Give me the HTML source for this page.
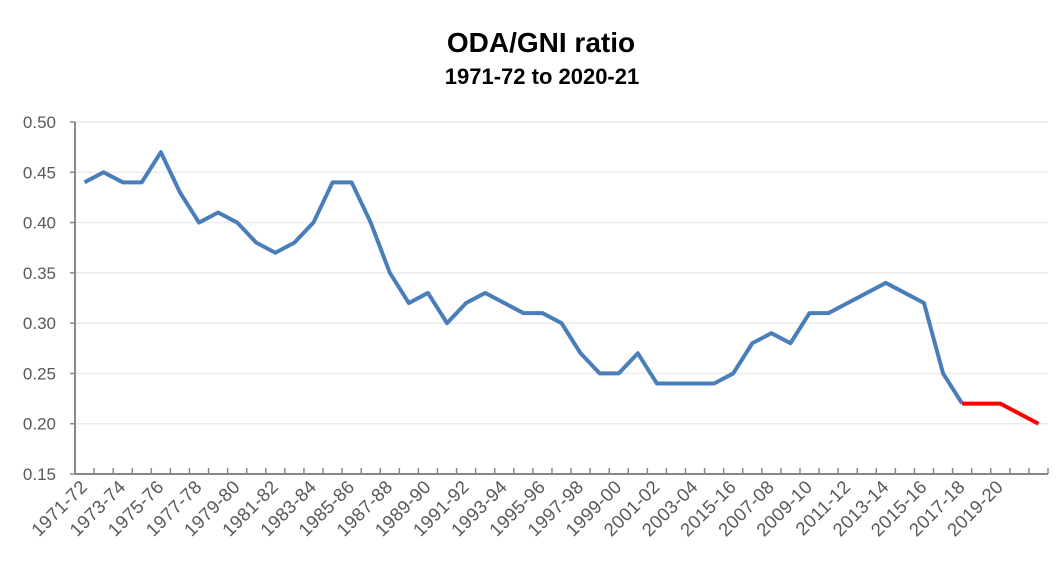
<!DOCTYPE html>
<html><head><style>body{margin:0;background:#fff}</style></head><body>
<svg width="1060" height="577" xmlns="http://www.w3.org/2000/svg" font-family="Liberation Sans, sans-serif">
<rect width="1060" height="577" fill="#fff"/>
<text x="541" y="52" text-anchor="middle" font-size="28" font-weight="bold" fill="#000">ODA/GNI ratio</text>
<text x="542" y="84" text-anchor="middle" font-size="22" font-weight="bold" fill="#000">1971-72 to 2020-21</text>
</svg>
<script>
const s=document.querySelector('svg'),NS='http://www.w3.org/2000/svg';
function el(t,a,txt){const e=document.createElementNS(NS,t);for(const k in a)e.setAttribute(k,a[k]);if(txt)e.textContent=txt;s.appendChild(e);return e;}
const X0=75,X1=1048,W=(X1-X0)/51;const Y=v=>474-(v-0.15)/0.05*50.29;const cx=i=>X0+W*(i+0.5);
for(let k=0;k<=7;k++){const v=0.15+k*0.05,y=Y(v);
 if(k>0)el('line',{x1:X0,x2:X1,y1:y,y2:y,stroke:'#ececec','stroke-width':1.5});
 el('line',{x1:X0-5,x2:X0,y1:y,y2:y,stroke:'#888','stroke-width':1.5});
 el('text',{x:56,y:y+6,'text-anchor':'end','font-size':17,fill:'#595959'},v.toFixed(2));}
el('line',{x1:X0,x2:X0,y1:Y(0.5),y2:474,stroke:'#888','stroke-width':2});
el('line',{x1:X0,x2:X1,y1:474,y2:474,stroke:'#888','stroke-width':2});
for(let i=1;i<=51;i++){const x=X0+W*i;el('line',{x1:x,x2:x,y1:468,y2:474,stroke:'#888','stroke-width':1.5});}
const labs=['1971-72','1973-74','1975-76','1977-78','1979-80','1981-82','1983-84','1985-86','1987-88','1989-90','1991-92','1993-94','1995-96','1997-98','1999-00','2001-02','2003-04','2015-16','2007-08','2009-10','2011-12','2013-14','2015-16','2017-18','2019-20'];
labs.forEach((l,j)=>{const x=cx(2*j)+4,y=488;el('text',{x:x,y:y,'text-anchor':'end','font-size':18.5,'letter-spacing':'0.3',fill:'#595959',transform:`rotate(-45 ${x} ${y})`},l);});
const d=[0.44,0.45,0.44,0.44,0.47,0.43,0.40,0.41,0.40,0.38,0.37,0.38,0.40,0.44,0.44,0.40,0.35,0.32,0.33,0.30,0.32,0.33,0.32,0.31,0.31,0.30,0.27,0.25,0.25,0.27,0.24,0.24,0.24,0.24,0.25,0.28,0.29,0.28,0.31,0.31,0.32,0.33,0.34,0.33,0.32,0.25,0.22];
el('polyline',{points:d.map((v,i)=>cx(i)+','+Y(v)).join(' '),fill:'none',stroke:'#4a7ebb','stroke-width':4,'stroke-linejoin':'round'});
const r=[[46,0.22],[47,0.22],[48,0.22],[49,0.21],[50,0.20]];
el('polyline',{points:r.map(p=>cx(p[0])+','+Y(p[1])).join(' '),fill:'none',stroke:'#ff0000','stroke-width':4,'stroke-linejoin':'round'});
</script>
</body></html>
